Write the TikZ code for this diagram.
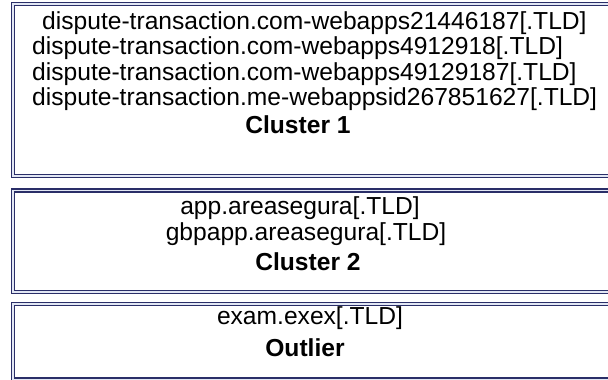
\documentclass[tikz,border=0pt]{standalone}
\usepackage{fontspec}
\setmainfont{Liberation Sans}
\definecolor{framecol}{RGB}{42,46,104}
\definecolor{gapcol}{RGB}{226,231,244}
\begin{document}
\begin{tikzpicture}[x=1bp,y=-1bp,
  clusterbox/.style={draw=framecol, line width=1.4bp, double=gapcol,
    double distance=1.8bp, rectangle, inner sep=0pt, outer sep=0pt,
    anchor=north west},
  entry/.style={inner sep=0pt, font=\fontsize{24.7}{28}\selectfont,
    anchor=base west},
  entryc/.style={inner sep=0pt, font=\fontsize{24.7}{28}\selectfont,
    anchor=base},
  headline/.style={inner sep=0pt, font=\fontsize{24.7}{28}\selectfont\bfseries,
    anchor=base}]
\useasboundingbox (0,0) rectangle (608,379);
\clip (0,0) rectangle (608,379);
\fill[white] (0,0) rectangle (608,379);

% the three framed groups (they run past the right and bottom edges)
\node[clusterbox, minimum width=609bp, minimum height=172bp] (box1) at (13,4) {};
\node[clusterbox, minimum width=609bp, minimum height=101.5bp] (box2) at (13,190.5) {};
\node[clusterbox, minimum width=609bp, minimum height=75.5bp] (box3) at (13,304) {};

% Cluster 1
\node[entry] (c1a) at (42,29) {dispute-transaction.com-webapps21446187[.TLD]};
\node[entry] (c1b) at (32,54.5) {dispute-transaction.com-webapps4912918[.TLD]};
\node[entry] (c1c) at (32,80) {dispute-transaction.com-webapps49129187[.TLD]};
\node[entry] (c1d) at (32,105.5) {dispute-transaction.me-webappsid267851627[.TLD]};
\node[headline] (c1t) at (298,133) {Cluster 1};

% Cluster 2
\node[entryc] (c2a) at (300,214) {app.areasegura[.TLD]};
\node[entryc] (c2b) at (306,240) {gbpapp.areasegura[.TLD]};
\node[headline] (c2t) at (308,270) {Cluster 2};

% Outlier
\node[entryc] (o1) at (310,324) {exam.exex[.TLD]};
\node[headline] (o1t) at (305,356) {Outlier};
\end{tikzpicture}
\end{document}
